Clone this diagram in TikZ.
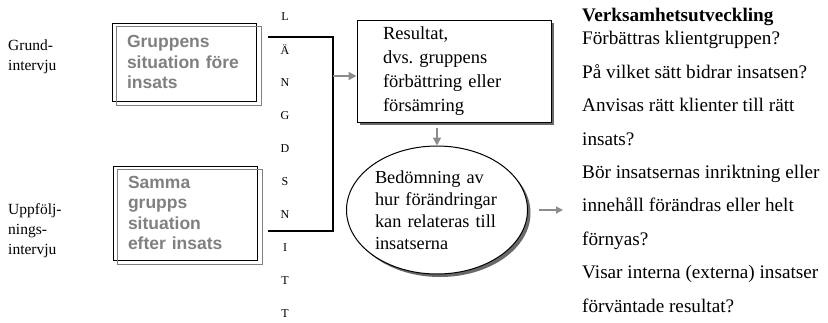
\documentclass[tikz,border=0pt]{standalone}
\usepackage{fontspec}
\setmainfont{Liberation Serif}
\setsansfont{Liberation Sans}
\usetikzlibrary{arrows.meta, positioning, shadows, shapes.geometric}
\definecolor{textgray}{RGB}{128,128,128}
\definecolor{linegray}{RGB}{140,140,140}
\definecolor{shadowgray}{RGB}{105,105,105}
\tikzset{
  interview/.style={align=left, anchor=west, inner sep=0pt,
                    font=\fontsize{15.5}{20}\selectfont},
  situation/.style={rectangle, draw=black, line width=1pt, text width=115pt,
                    inner xsep=14.5pt, inner ysep=0pt, align=left, text=textgray,
                    font=\sffamily\bfseries\fontsize{17.5}{20.5}\selectfont},
  cutletter/.style={inner sep=0pt, font=\fontsize{12}{14}\selectfont},
  result/.style={rectangle, draw=black, line width=1pt, fill=white, align=left,
                 text width=142pt, inner xsep=26pt,
                 minimum width=194pt, minimum height=102pt,
                 drop shadow={shadow xshift=3pt, shadow yshift=-3pt,
                              fill=shadowgray, opacity=1},
                 font=\fontsize{18.5}{24}\selectfont},
  assess/.style={ellipse, draw=black, line width=1pt, fill=white, align=left,
                 text width=124pt, minimum width=181pt, minimum height=128pt,
                 inner sep=0pt,
                 drop shadow={shadow xshift=3pt, shadow yshift=-3pt,
                              fill=shadowgray, opacity=1},
                 font=\fontsize{18.3}{22}\selectfont},
  question/.style={align=left, anchor=base west, inner sep=0pt,
                   font=\fontsize{19.2}{33.4}\selectfont},
  bracket/.style={draw=black, line width=1.1pt},
  arrow/.style={-{Triangle[length=8pt, width=8pt]}, line width=1.6pt, draw=linegray},
  thinarrow/.style={-{Triangle[length=7pt, width=7pt]}, line width=1.2pt, draw=linegray},
}

\begin{document}
\begin{tikzpicture}[x=1pt, y=-1pt]
  \useasboundingbox (0,0) rectangle (828,322);

  % Interviews
  \node[interview] (grund) at (8,57) {Grund-\\intervju};
  \node[interview] (uppf) at (8,231) {Uppfölj-\\nings-\\intervju};

  % Situation boxes (with offset grey copy)
  \node[situation, minimum height=78pt] (before) at (184.5,62)
    {Gruppens situation före insats};
  \draw[textgray, line width=1pt] ([shift={(4,4)}]before.north west)
    rectangle ([shift={(4,4)}]before.south east);
  \node[situation, minimum height=94pt] (after) at (185.5,213)
    {Samma\\grupps\\situation\\efter insats};
  \draw[textgray, line width=1pt] ([shift={(4,4)}]after.north west)
    rectangle ([shift={(4,4)}]after.south east);

  % Longitudinal cut
  \foreach \ch [count=\i from 0] in {L,Ä,N,G,D,S,N,I,T,T}
    \node[cutletter] (cut\i) at (285,{17+33*\i}) {\ch};
  \coordinate (brtl) at (268,37);
  \coordinate (brtr) at (333,37);
  \coordinate (brbr) at (333,231);
  \coordinate (brbl) at (268,231);
  \coordinate (brout) at (333,76);
  \draw[bracket] (brtl) -- (brtr) -- (brbr) -- (brbl);

  % Result and assessment
  \node[result] (result) at (454,71)
    {Resultat,\\dvs.\ gruppens\\förbättring eller\\försämring};
  \node[assess] (assess) at (437,210)
    {Bedömning av\\hur förändringar\\kan relateras till\\insatserna};

  % Development questions
  \node[question] (head) at (582,21.5) {\textbf{Verksamhetsutveckling}};
  \node[question] (questions) at (582,312)
    {Förbättras klientgruppen?\\
     På vilket sätt bidrar insatsen?\\
     Anvisas rätt klienter till rätt\\
     insats?\\
     Bör insatsernas inriktning eller\\
     innehåll förändras eller helt\\
     förnyas?\\
     Visar interna (externa) insatser\\
     förväntade resultat?};
  \coordinate (qin) at (563,210);

  % Arrows
  \draw[arrow] (brout) -- (brout -| result.west);
  \draw[arrow, shorten <=5pt] (result.south -| assess.north) -- (assess.north);
  \draw[thinarrow, shorten <=11pt] (assess.east) -- (qin);
\end{tikzpicture}
\end{document}
